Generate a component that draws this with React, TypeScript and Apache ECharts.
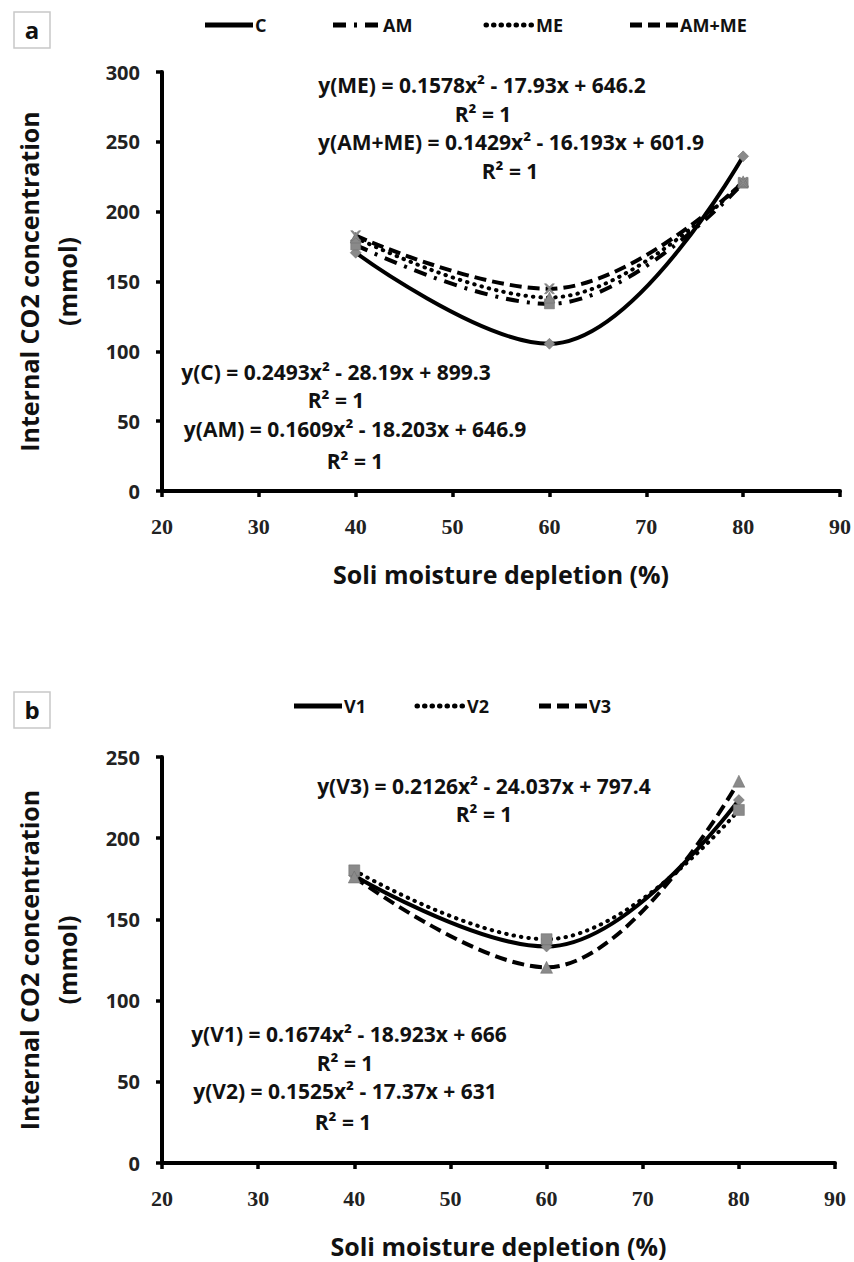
import React, { useEffect, useRef } from "react";
import * as echarts from "echarts";

const xPoints = [40, 60, 80];
const xTicks = [20, 90, 10];

const seriesANames = ["C", "AM", "ME", "AM+ME"];
const valuesC = [170.6, 105.4, 239.6];
const valuesAM = [176.2, 134.0, 220.4];
const valuesME = [181.5, 138.5, 221.7];
const valuesAMME = [182.8, 144.8, 221.0];

const seriesBNames = ["V1", "V2", "V3"];
const valuesV1 = [176.9, 133.3, 223.5];
const valuesV2 = [180.2, 137.8, 217.4];
const valuesV3 = [176.1, 120.5, 235.1];

const eqA = [
  { text: "y(ME) = 0.1578x² - 17.93x + 646.2", x: 482, y: 85 },
  { text: "R² = 1", x: 483, y: 114 },
  { text: "y(AM+ME) = 0.1429x² - 16.193x + 601.9", x: 511, y: 142 },
  { text: "R² = 1", x: 510, y: 171 },
  { text: "y(C) = 0.2493x² - 28.19x + 899.3", x: 336, y: 372 },
  { text: "R² = 1", x: 336, y: 400 },
  { text: "y(AM) = 0.1609x² - 18.203x + 646.9", x: 355, y: 429 },
  { text: "R² = 1", x: 355, y: 461 },
];
const eqB = [
  { text: "y(V3) = 0.2126x² - 24.037x + 797.4", x: 484, y: 786 },
  { text: "R² = 1", x: 484, y: 814 },
  { text: "y(V1) = 0.1674x² - 18.923x + 666", x: 349, y: 1034 },
  { text: "R² = 1", x: 345, y: 1063 },
  { text: "y(V2) = 0.1525x² - 17.37x + 631", x: 345, y: 1091 },
  { text: "R² = 1", x: 343, y: 1122 },
];

const SANS = "Open Sans";
const SERIF = "Liberation Serif";

const dashSolid: any = "solid";
const dashDashDot: any = [13, 8, 3, 8];
const dashDot: any = [0.5, 7];
const dashDash: any = [12, 6];

const styleA = [
  { dash: dashSolid, symbol: "diamond", size: 11, cap: "butt" },
  { dash: dashDashDot, symbol: "rect", size: 10, cap: "butt" },
  { dash: dashDot, symbol: "triangle", size: 11, cap: "round" },
  { dash: dashDash, symbol: "path://M0,0L2,0L5,3L8,0L10,0L6,5L10,10L8,10L5,7L2,10L0,10L4,5Z", size: 10, cap: "butt" },
];
const styleB = [
  { dash: dashSolid, symbol: "diamond", size: 11, cap: "butt" },
  { dash: dashDot, symbol: "rect", size: 11, cap: "round" },
  { dash: dashDash, symbol: "triangle", size: 12, cap: "butt" },
];

const legendA = [205, 333, 486, 630];
const legendB = [294, 417, 539];

function makeLine(name: string, vals: number[], st: any, idx: number) {
  return {
    name,
    type: "line",
    xAxisIndex: idx,
    yAxisIndex: idx,
    data: xPoints.map((x, i) => [x, vals[i]]),
    smooth: 0.4,
    symbol: st.symbol,
    symbolSize: st.size,
    itemStyle: { color: "#8a8a8a", borderColor: "#6a6a6a", borderWidth: 0.5 },
    lineStyle: { color: "#000", width: 4, type: st.dash, cap: st.cap },
    z: 3,
  };
}

function legendGraphics(names: string[], xs: number[], styles: any[], y: number) {
  const out: any[] = [];
  names.forEach((n, i) => {
    out.push({
      type: "line",
      shape: { x1: xs[i], y1: y, x2: xs[i] + 48, y2: y },
      style: { stroke: "#000", lineWidth: 5, lineDash: styles[i].dash === "solid" ? null : styles[i].dash, lineCap: styles[i].cap },
    });
    out.push({
      type: "text",
      x: xs[i] + 50,
      y,
      style: { text: n, font: `bold 18px ${SANS}`, fill: "#111", textVerticalAlign: "middle", textAlign: "left" },
    });
  });
  return out;
}

function eqGraphics(list: any[]) {
  return list.map((e) => ({
    type: "text",
    x: e.x,
    y: e.y,
    style: { text: e.text, font: `bold 21px ${SANS}`, fill: "#111", textAlign: "center", textVerticalAlign: "middle" },
  }));
}

function boxGraphic(label: string, x: number, y: number) {
  return [
    { type: "rect", shape: { x, y, width: 36, height: 36 }, style: { fill: "#fff", stroke: "#c8c8c8", lineWidth: 1.5 } },
    { type: "text", x: x + 18, y: y + 17, style: { text: label, font: `bold 24px ${SANS}`, fill: "#111", textAlign: "center", textVerticalAlign: "middle" } },
  ];
}

function xAxisCfg(idx: number) {
  return {
    type: "value",
    gridIndex: idx,
    min: xTicks[0],
    max: xTicks[1],
    interval: xTicks[2],
    name: "Soli moisture depletion (%)",
    nameLocation: "middle",
    nameGap: 70,
    nameTextStyle: { fontFamily: SANS, fontWeight: "bold", fontSize: 25, color: "#111" },
    axisLine: { lineStyle: { color: "#000", width: 4 } },
    axisTick: { show: true, length: 6, lineStyle: { color: "#000", width: 3.5 } },
    axisLabel: { fontFamily: SERIF, fontWeight: "bold", fontSize: 22, color: "#222", margin: 24 },
    splitLine: { show: false },
  };
}

function yAxisCfg(idx: number, max: number) {
  return {
    type: "value",
    gridIndex: idx,
    min: 0,
    max,
    interval: 50,
    name: "Internal CO2 concentration\n(mmol)",
    nameLocation: "middle",
    nameGap: 76,
    nameRotate: 90,
    nameTextStyle: { fontFamily: SANS, fontWeight: "bold", fontSize: 25, color: "#111", lineHeight: 38 },
    axisLine: { show: true, lineStyle: { color: "#000", width: 4 } },
    axisTick: { show: true, length: 6, lineStyle: { color: "#000", width: 3.5 } },
    axisLabel: { fontFamily: SANS, fontWeight: "bold", fontSize: 20, color: "#222", margin: 22 },
    splitLine: { show: false },
  };
}

export default function App() {
  const ref = useRef<HTMLDivElement>(null);
  useEffect(() => {
    if (!ref.current) return;
    const chart = echarts.init(ref.current, null, { renderer: "svg" });
    const aVals = [valuesC, valuesAM, valuesME, valuesAMME];
    const bVals = [valuesV1, valuesV2, valuesV3];
    const series: any[] = [];
    seriesANames.forEach((n, i) => series.push(makeLine(n, aVals[i], styleA[i], 0)));
    seriesBNames.forEach((n, i) => series.push(makeLine(n, bVals[i], styleB[i], 1)));
    chart.setOption({
      animation: false,
      backgroundColor: "#fff",
      grid: [
        { left: 162, top: 72, width: 680, height: 419 },
        { left: 162, top: 757, width: 673, height: 406 },
      ],
      xAxis: [xAxisCfg(0), xAxisCfg(1)],
      yAxis: [yAxisCfg(0, 300), yAxisCfg(1, 250)],
      series,
      graphic: [
        ...boxGraphic("a", 14, 12),
        ...boxGraphic("b", 14, 692),
        ...legendGraphics(seriesANames, legendA, styleA, 25),
        ...legendGraphics(seriesBNames, legendB, styleB, 706),
        ...eqGraphics(eqA),
        ...eqGraphics(eqB),
      ],
    });
    return () => chart.dispose();
  }, []);
  return <div ref={ref} style={{ position: "absolute", left: 0, top: 0, width: 854, height: 1262 }} />;
}
